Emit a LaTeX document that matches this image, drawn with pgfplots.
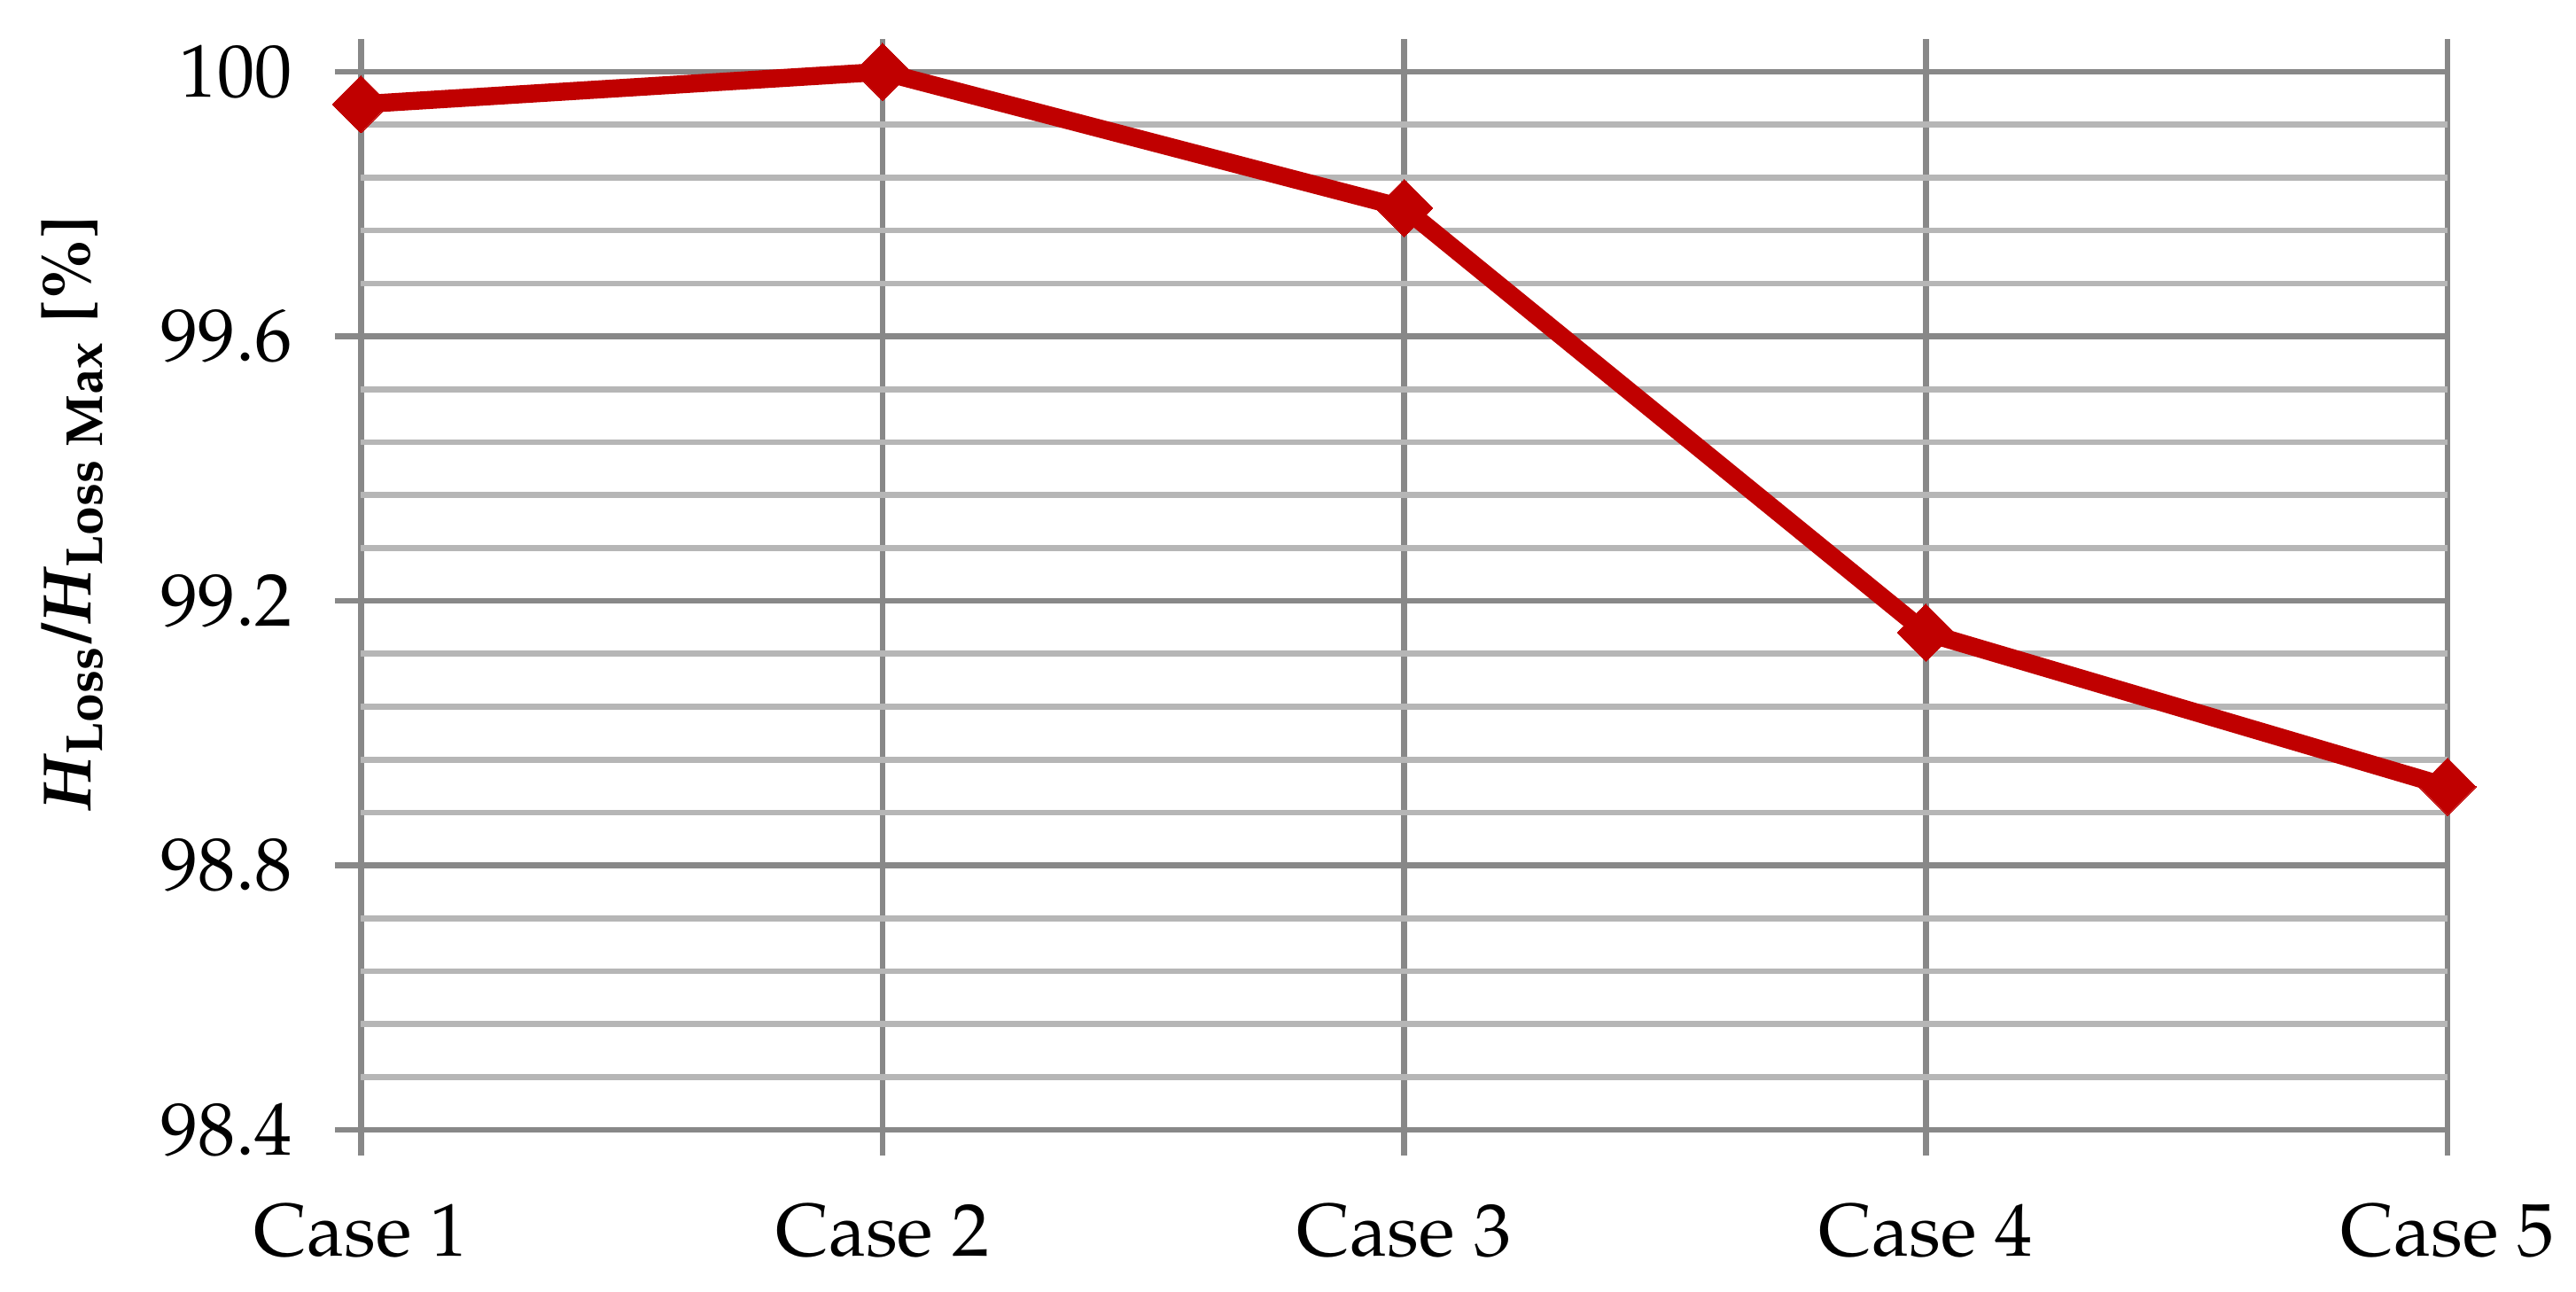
\documentclass[border=0pt]{standalone}
\usepackage[T1]{fontenc}
\usepackage{mathpazo}
\usepackage{pgfplots}
\pgfplotsset{compat=1.18}
\usetikzlibrary{calc}
\definecolor{cLine}{RGB}{192,0,0}
\definecolor{cMajor}{RGB}{136,136,136}
\definecolor{cMinor}{RGB}{182,182,182}
\begin{document}
\begin{tikzpicture}
\begin{axis}[
  name=ax,
  scale only axis,
  width=11.775cm, height=6.1565cm,
  xmin=1, xmax=5,
  ymin=98.4, ymax=100.0497,
  xtick={1,2,3,4,5},
  xticklabels={Case 1, Case 2, Case 3, Case 4, Case 5},
  ytick={98.4,98.8,99.2,99.6,100},
  yticklabels={98.4,98.8,99.2,99.6,100},
  minor ytick={98.48,98.56,98.64,98.72,98.88,98.96,99.04,99.12,
               99.28,99.36,99.44,99.52,99.68,99.76,99.84,99.92},
  xmajorgrids, ymajorgrids, yminorgrids,
  major grid style={cMajor, line width=0.95pt},
  minor grid style={cMinor, line width=0.95pt},
  axis line style={draw=none},
  tick align=outside,
  xtick pos=bottom, ytick pos=left,
  major tick length=0.145cm,
  minor tick length=0pt,
  every tick/.style={cMajor, line width=0.95pt},
  tick label style={font=\fontsize{12}{14}\selectfont, color=black},
  /pgf/number format/assume math mode=true,
  yticklabel style={xshift=-0.12cm},
  xticklabel style={yshift=-0.15cm},
  ylabel={\textbf{\textit{H}\textsubscript{Loss}/\textit{H}\textsubscript{Loss Max} [\%]}},
  every axis y label/.style={at={(axis description cs:-0.1295,0.565)},
    rotate=90, anchor=base, font=\fontsize{11}{13}\selectfont},
  clip=false,
]
\addplot[cLine, line width=2.9pt, mark=diamond*,
  mark options={solid, fill=cLine, draw=cLine, line width=0pt, xscale=1.33},
  mark size=4.6pt] coordinates {
  (1,99.951) (2,100.0) (3,99.794) (4,99.152) (5,98.919)};
\end{axis}
\pgfresetboundingbox
\path ($(ax.south west)+(-2.0365cm,-0.9135cm)$) rectangle ($(ax.north east)+(0.725cm,0.22cm)$);
\end{tikzpicture}
\end{document}
